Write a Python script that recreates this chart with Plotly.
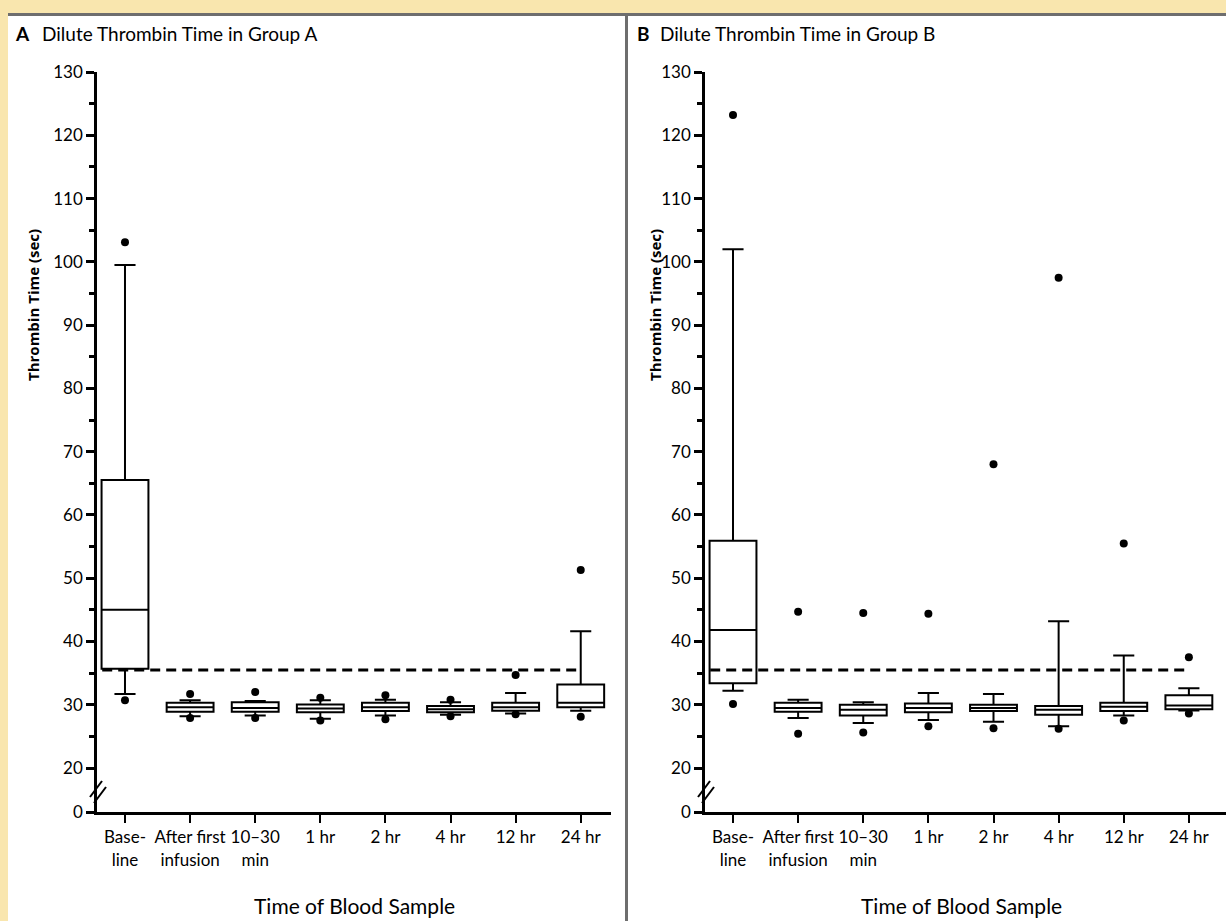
import plotly.graph_objects as go

W, H = 1226, 921

CATEGORIES = ["Base-<br>line", "After first<br>infusion", "10–30<br>min", "1 hr", "2 hr", "4 hr", "12 hr", "24 hr"]
POSITIONS = [0, 1, 2, 3, 4, 5, 6, 7]

# Group A (seconds)
A_LOW = [31.7, 28.2, 28.3, 27.8, 28.3, 28.4, 28.6, 29.05]
A_Q1 = [35.7, 28.9, 28.9, 28.8, 29.0, 28.8, 29.05, 29.6]
A_MED = [45.0, 29.6, 29.5, 29.4, 29.6, 29.3, 29.6, 30.3]
A_Q3 = [65.5, 30.3, 30.4, 30.05, 30.3, 29.8, 30.3, 33.2]
A_HIGH = [99.5, 30.7, 30.6, 30.7, 30.8, 30.4, 31.85, 41.6]
A_OUT_POS = [0, 0, 1, 1, 2, 2, 3, 3, 4, 4, 5, 5, 6, 6, 7, 7]
A_OUT_VAL = [103.1, 30.7, 31.7, 27.9, 32.0, 27.9, 31.1, 27.5, 31.5, 27.7, 30.8, 28.2, 34.7, 28.5, 51.3, 28.1]

# Group B (seconds)
B_LOW = [32.2, 27.9, 27.1, 27.6, 27.3, 26.6, 28.3, 29.1]
B_Q1 = [33.4, 28.9, 28.3, 28.8, 29.0, 28.4, 29.0, 29.3]
B_MED = [41.8, 29.5, 29.2, 29.5, 29.5, 29.2, 29.7, 29.9]
B_Q3 = [55.9, 30.3, 30.0, 30.2, 30.0, 29.8, 30.3, 31.5]
B_HIGH = [102.0, 30.8, 30.4, 31.85, 31.7, 43.2, 37.8, 32.6]
B_OUT_POS = [0, 0, 1, 1, 2, 2, 3, 3, 4, 4, 5, 5, 6, 6, 7, 7]
B_OUT_VAL = [123.2, 30.1, 44.7, 25.4, 44.5, 25.6, 44.4, 26.6, 68.0, 26.3, 97.5, 26.2, 55.5, 27.5, 37.5, 28.6]

THRESHOLD = 35.5
Y_TICKS = [20, 30, 40, 50, 60, 70, 80, 90, 100, 110, 120, 130]
Y_MINOR = [25, 35, 45, 55, 65, 75, 85, 95, 105, 115, 125]
Y_BREAK_BOTTOM = 13.05  # axis bottom shown as "0" (broken axis)

FONT = "Lato, Roboto, sans-serif"
BG = "#F9E6AE"


def px(x):
    return x / W


def py(y):
    return 1 - y / H


fig = go.Figure()

panels = [
    ("x", "y", A_LOW, A_Q1, A_MED, A_Q3, A_HIGH, A_OUT_POS, A_OUT_VAL),
    ("x2", "y2", B_LOW, B_Q1, B_MED, B_Q3, B_HIGH, B_OUT_POS, B_OUT_VAL),
]

for xa, ya, lo, q1, med, q3, hi, opos, oval in panels:
    fig.add_trace(go.Scatter(
        x=[-0.35, POSITIONS[-1]], y=[THRESHOLD, THRESHOLD], mode="lines",
        line=dict(color="black", width=3, dash="10px,6px"),
        xaxis=xa, yaxis=ya, showlegend=False, hoverinfo="skip"))
    fig.add_trace(go.Box(
        x=POSITIONS, lowerfence=lo, q1=q1, median=med, q3=q3, upperfence=hi,
        width=0.72, whiskerwidth=0.45, fillcolor="white",
        line=dict(color="black", width=2), boxpoints=False,
        xaxis=xa, yaxis=ya, showlegend=False))
    fig.add_trace(go.Scatter(
        x=opos, y=oval, mode="markers",
        marker=dict(color="black", size=8),
        xaxis=xa, yaxis=ya, showlegend=False))

xcommon = dict(
    tickmode="array", tickvals=POSITIONS, ticktext=CATEGORIES,
    ticks="outside", ticklen=8, tickwidth=2, tickcolor="black", tickangle=0,
    showline=True, linewidth=3, linecolor="black", showgrid=False, zeroline=False,
    tickfont=dict(family=FONT, size=17, color="black"), automargin=False,
)
ycommon = dict(
    range=[Y_BREAK_BOTTOM, 130], tickmode="array",
    tickvals=[Y_BREAK_BOTTOM] + Y_TICKS, ticktext=["0"] + [str(v) for v in Y_TICKS],
    ticks="outside", ticklen=8, tickwidth=2.5, tickcolor="black",
    minor=dict(tickmode="array", tickvals=Y_MINOR, ticks="outside", ticklen=5,
               tickwidth=2.5, tickcolor="black", showgrid=False),
    showline=True, linewidth=2.5, linecolor="black", showgrid=False, zeroline=False,
    tickfont=dict(family=FONT, size=17, color="black"), automargin=False,
)

ydom = [py(812), py(72)]
fig.update_layout(
    width=W, height=H, margin=dict(l=0, r=0, t=0, b=0, pad=0), autosize=False,
    paper_bgcolor=BG, plot_bgcolor="white",
    xaxis=dict(domain=[px(97), px(611)], range=[-0.43, 7.465], anchor="y", **xcommon),
    yaxis=dict(domain=ydom, anchor="x", **ycommon),
    xaxis2=dict(domain=[px(705), px(1226)], range=[-0.43, 7.57], anchor="y2", **xcommon),
    yaxis2=dict(domain=ydom, anchor="x2", **ycommon),
)

shapes = [
    dict(type="rect", xref="paper", yref="paper", x0=px(8), x1=px(625), y0=0, y1=py(16),
         fillcolor="white", line=dict(width=0), layer="below"),
    dict(type="rect", xref="paper", yref="paper", x0=px(628), x1=1, y0=0, y1=py(16),
         fillcolor="white", line=dict(width=0), layer="below"),
    dict(type="rect", xref="paper", yref="paper", x0=px(8), x1=1, y0=py(16), y1=py(13),
         fillcolor="#6E6E6E", line=dict(width=0), layer="below"),
    dict(type="rect", xref="paper", yref="paper", x0=px(625), x1=px(628), y0=0, y1=py(16),
         fillcolor="#6E6E6E", line=dict(width=0), layer="below"),
]
# axis break marks
for ax0 in (97, 705):
    for dx, dy in ((0, 0), (4, 6)):
        shapes.append(dict(type="line", xref="paper", yref="paper",
                           x0=px(ax0 - 7 + dx), y0=py(797 + dy),
                           x1=px(ax0 + 5 + dx), y1=py(781 + dy),
                           line=dict(color="black", width=2)))
fig.update_layout(shapes=shapes)

annotations = []
for xoff, letter, grp in ((0, "A", "A"), (622, "B", "B")):
    annotations.append(dict(text="<b>" + letter + "</b>", xref="paper", yref="paper",
                            x=px(13 + xoff), y=py(33), xanchor="left", yanchor="middle",
                            showarrow=False, font=dict(family=FONT, size=19, color="black")))
    annotations.append(dict(text="Dilute Thrombin Time in Group " + grp, xref="paper", yref="paper",
                            x=px(40 + xoff - (0 if xoff == 0 else 4)), y=py(33), xanchor="left", yanchor="middle",
                            showarrow=False, font=dict(family=FONT, size=19, color="black")))
for xc, yc in ((33, 305), (655, 305)):
    annotations.append(dict(text="<b>Thrombin Time (sec)</b>", xref="paper", yref="paper",
                            x=px(xc), y=py(yc), xanchor="center", yanchor="middle", textangle=-90,
                            showarrow=False, font=dict(family="Open Sans, sans-serif", size=15, color="black")))
for xc in (354, 962):
    annotations.append(dict(text="Time of Blood Sample", xref="paper", yref="paper",
                            x=px(xc), y=py(905), xanchor="center", yanchor="middle",
                            showarrow=False, font=dict(family=FONT, size=21, color="black")))
fig.update_layout(annotations=annotations)

fig.write_html(
    "out.html",
    config={"displayModeBar": False},
    post_script=("document.body.style.margin='0';document.body.style.overflow='hidden';"
                 "document.body.style.background='" + BG + "';"),
)
